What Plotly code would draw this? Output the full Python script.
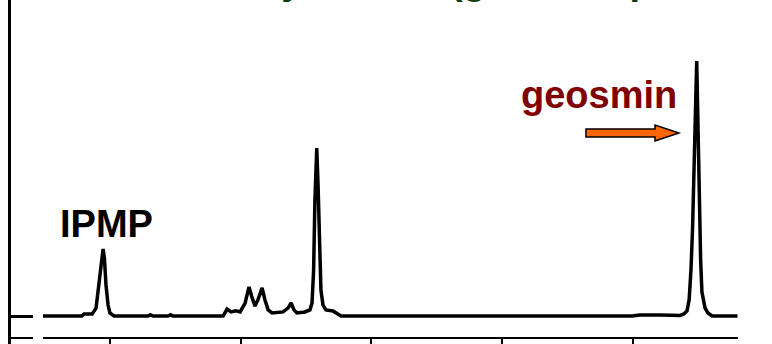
import plotly.graph_objects as go

# ---- data (retention time in min, response in % of geosmin peak)
time_min = [
    7.44, 8.93, 9.01, 9.32, 9.47, 9.58, 9.66, 9.74, 9.79, 9.85, 9.93, 10.00, 10.16,
    11.46, 11.55, 11.65, 12.22, 12.32, 12.41,
    14.33, 14.48, 14.63, 14.82, 14.98, 15.17, 15.32, 15.43, 15.55, 15.66, 15.82, 15.93,
    16.05, 16.20, 16.62, 16.81, 16.93, 17.04, 17.15, 17.46, 17.65, 17.73, 17.79, 17.84,
    17.91, 17.96, 18.02, 18.07, 18.15, 18.26, 18.53, 18.68, 18.84,
    29.97, 30.27, 31.04, 31.80, 31.95, 32.07, 32.15, 32.22, 32.28, 32.34, 32.39, 32.44,
    32.47, 32.50, 32.54, 32.59, 32.64, 32.76, 32.87, 33.03, 34.00,
]
response = [
    0.0, 0.0, 0.8, 0.8, 3.1, 12.2, 21.2, 26.3, 22.7, 12.2, 4.3, 1.2, 0.0,
    0.0, 0.5, 0.0, 0.0, 0.5, 0.0,
    0.0, 2.7, 1.6, 2.0, 1.6, 5.1, 11.4, 7.4, 3.9, 6.3, 11.0, 6.3,
    2.4, 1.2, 1.6, 3.1, 5.1, 2.4, 1.2, 1.6, 2.4, 5.1, 18.0, 45.5,
    65.9, 51.4, 29.8, 10.2, 4.3, 2.4, 2.0, 1.2, 0.0,
    0.0, 0.4, 0.4, 0.2, 0.8, 2.0, 6.3, 18.0, 33.7, 57.3, 80.8, 100.0,
    84.7, 65.1, 41.6, 22.0, 9.4, 3.1, 1.2, 0.0, 0.0,
]
tick_times = [10, 15, 20, 25, 30]
baseline_tick = [0]

label_ipmp = "IPMP"
label_geosmin = "geosmin"
title_text = "Water extract by GC-MS (geosmin present in sample)"

# ---- layout geometry
W, H = 772, 344
ML, MR, MT, MB = 11, 34, 0, 7
PW, PH = W - ML - MR, H - MT - MB
X_RANGE = [6.218, 34.019]
Y_RANGE = [-8.235, 123.92]
FONT = "Liberation Sans, Arial, Helvetica, sans-serif"


def fx(p):
    return (p - ML) / PW


def fy(p):
    return 1 - (p - MT) / PH


fig = go.Figure()
fig.add_trace(go.Scatter(
    x=time_min, y=response, mode="lines",
    line=dict(color="black", width=3.5), hoverinfo="skip", showlegend=False,
))

arrow_pts = [(586, 129), (655, 129), (655, 125), (679, 133), (655, 141), (655, 137), (586, 137)]
path = "M " + " L ".join(f"{fx(a):.4f},{fy(b):.4f}" for a, b in arrow_pts) + " Z"

fig.update_layout(
    width=W, height=H,
    margin=dict(l=ML, r=MR, t=MT, b=MB, pad=0),
    paper_bgcolor="white", plot_bgcolor="white",
    showlegend=False,
    xaxis=dict(range=X_RANGE, showgrid=False, zeroline=False, showline=True,
               linecolor="black", linewidth=2, ticks="outside", ticklen=7,
               tickwidth=2, tickcolor="black", tickvals=tick_times,
               showticklabels=False, fixedrange=True),
    yaxis=dict(range=Y_RANGE, showgrid=False, zeroline=False, showline=True,
               linecolor="black", linewidth=3, ticks="inside", ticklen=22,
               tickwidth=3, tickcolor="black", tickvals=baseline_tick,
               showticklabels=False, fixedrange=True),
    shapes=[
        dict(type="path", xref="paper", yref="paper", path=path,
             fillcolor="#FF6600", line=dict(color="black", width=1.5), layer="above"),
        dict(type="rect", xref="paper", yref="paper", x0=fx(33), x1=fx(43),
             y0=fy(344), y1=fy(334), fillcolor="white", line=dict(width=0), layer="above"),
        dict(type="line", xref="paper", yref="paper", x0=fx(9.5), x1=fx(9.5),
             y0=fy(336), y1=fy(345), line=dict(color="black", width=3), layer="above"),
    ],
    annotations=[
        dict(text=f"<b>{title_text}</b>", xref="paper", yref="paper",
             x=fx(6), y=fy(4.5), xanchor="left", yanchor="bottom", showarrow=False,
             font=dict(family=FONT, size=38, color="#0b3d0b")),
        dict(text=f"<b>{label_ipmp}</b>", xref="paper", yref="paper",
             x=fx(106), y=fy(223.9), xanchor="center", yanchor="middle", showarrow=False,
             font=dict(family=FONT, size=38, color="black")),
        dict(text=f"<b>{label_geosmin}</b>", xref="paper", yref="paper",
             x=fx(599), y=fy(95.5), xanchor="center", yanchor="middle", showarrow=False,
             font=dict(family=FONT, size=38, color="#800000")),
    ],
)

fig.write_html("out.html")
